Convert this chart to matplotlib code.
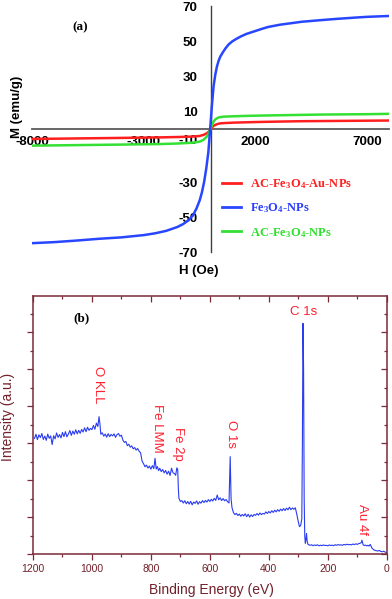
import matplotlib
matplotlib.use("Agg")
import matplotlib.pyplot as plt
from matplotlib.ticker import FixedLocator, MultipleLocator, NullFormatter

plt.rcParams['mathtext.fontset'] = 'custom'
plt.rcParams['mathtext.default'] = 'regular'

# ---------------- Panel (a): magnetization curves ----------------
h_fe3o4 = [-8000, -7000, -6000, -5000, -4000, -3000, -2500, -2000, -1500, -1250, -1000,
           -800, -640, -500, -400, -300, -200, -110, -30, 0, 46, 122, 200, 274, 350,
           426, 550, 654, 800, 958, 1150, 1338, 1600, 1794, 2250, 2557, 3086, 4078, 5000,
           5598, 6500, 7000, 8000]
m_fe3o4 = [-64.8, -64.2, -63.3, -62.3, -61.5, -60.2, -59.2, -57.8, -55.6, -54.0, -51.8,
           -49.0, -45.0, -40.5, -36.0, -30.0, -22.0, -13.0, 0.0, 5.1, 13.0, 24.3, 31.0,
           35.7, 39.0, 41.4, 44.0, 46.0, 48.3, 50.0, 51.5, 52.8, 54.3, 55.1, 57.0, 58.2,
           59.5, 61.2, 62.2, 62.8, 63.6, 64.0, 64.5]

h_au = [-8000, -6000, -4000, -2300, -1500, -780, -500, -330, -180, -100, -30, 50, 120, 200,
        300, 426, 700, 1034, 1600, 2250, 3100, 4000, 5000, 6000, 7000, 8000]
m_au = [-5.5, -5.2, -4.9, -4.6, -4.4, -4.1, -3.8, -3.2, -2.3, -1.5, 0.0, 1.0, 1.9, 2.5,
        3.0, 3.4, 3.6, 3.8, 4.0, 4.2, 4.4, 4.6, 4.7, 4.8, 4.9, 5.0]

h_ac = [-8000, -6000, -4000, -2300, -1500, -790, -500, -334, -183, -100, -30, 50, 122, 200,
        274, 400, 578, 1000, 1490, 2200, 3086, 4000, 5000, 6000, 7000, 8000]
m_ac = [-9.3, -9.0, -8.7, -8.4, -8.1, -7.6, -7.0, -6.1, -4.2, -2.6, 0.0, 2.2, 4.4, 5.6,
        6.3, 6.9, 7.2, 7.4, 7.6, 7.8, 8.0, 8.2, 8.4, 8.5, 8.6, 8.8]

a_xticks = [-8000, -3000, 2000, 7000]
a_yticks = [-70, -50, -30, -10, 10, 30, 50, 70]

labels_a = [r'AC-Fe$_{3}$O$_{4}$-Au-NPs', r'Fe$_{3}$O$_{4}$-NPs', r'AC-Fe$_{3}$O$_{4}$-NPs']

# ---------------- Panel (b): XPS survey spectrum ----------------
be = [1195, 1190, 1185, 1180, 1175, 1170, 1165, 1160, 1155, 1150, 1145, 1140, 1135, 1130,
      1125, 1120, 1115, 1110, 1105, 1100, 1095, 1090, 1085, 1080, 1075, 1070, 1065, 1060,
      1055, 1050, 1045, 1040, 1035, 1030, 1025, 1020, 1015, 1010, 1005, 1000, 995, 990,
      985, 980, 976, 973, 970, 965, 960, 955, 950, 945, 940, 935, 930, 925, 920, 915, 910,
      905, 900, 895, 890, 885, 880, 875, 870, 865, 860, 855, 850, 845, 840, 835, 830, 825,
      820, 815, 810, 805, 800, 795, 790, 786, 782, 778, 774, 770, 765, 760, 755, 750, 745,
      740, 735, 730, 725, 720, 716, 712, 709, 707, 705, 700, 695, 690, 685, 680, 675, 670,
      665, 660, 655, 650, 645, 640, 635, 630, 625, 620, 615, 610, 605, 600, 595, 590, 585,
      580, 575, 570, 565, 560, 555, 550, 545, 540, 535, 531, 528, 525, 520, 515, 510, 505,
      500, 495, 490, 485, 480, 475, 470, 465, 460, 455, 450, 445, 440, 435, 430, 425, 420,
      415, 410, 405, 400, 395, 390, 385, 380, 375, 370, 365, 360, 355, 350, 345, 340, 335,
      330, 325, 320, 315, 310, 305, 300, 296, 292, 288, 286, 284, 282, 280, 278, 276, 274,
      272, 270, 267, 260, 255, 250, 245, 240, 235, 230, 225, 220, 215, 210, 205, 200, 195,
      190, 185, 180, 175, 170, 165, 160, 155, 150, 145, 140, 135, 130, 125, 120, 115, 110,
      105, 100, 95, 90, 86, 84, 82, 80, 76, 72, 68, 64, 60, 56, 54, 50, 45, 40, 35, 30, 25,
      20, 15, 10, 5, 0]
intensity = [62.5, 64.8, 61.9, 64.5, 63.0, 65.2, 62.0, 63.8, 61.5, 64.9, 62.6, 63.9, 59.2,
             64.0, 62.3, 65.5, 63.1, 64.6, 62.8, 65.8, 63.5, 66.2, 63.4, 64.9, 66.8, 64.2,
             66.5, 64.8, 67.2, 65.0, 66.9, 65.3, 67.4, 66.0, 68.3, 66.2, 68.6, 66.9, 68.0,
             67.3, 69.6, 67.5, 70.8, 69.0, 74.3, 70.5, 64.8, 65.6, 63.8, 64.9, 63.2, 65.1,
             63.5, 64.7, 63.9, 65.0, 63.1, 64.6, 65.2, 63.7, 64.3, 61.6, 60.4, 60.9, 58.6,
             59.4, 57.8, 58.5, 56.9, 57.6, 56.2, 57.1, 55.6, 54.8, 50.3, 48.9, 47.2, 48.1,
             46.5, 47.6, 45.9, 47.8, 46.2, 51.8, 46.0, 47.3, 45.1, 46.4, 44.6, 45.7, 43.9,
             45.2, 43.2, 44.8, 42.5, 46.4, 44.0, 43.5, 42.6, 46.6, 45.8, 36.0, 30.2, 28.4,
             28.9, 27.6, 28.8, 27.2, 28.4, 27.0, 28.5, 26.6, 28.1, 27.4, 28.7, 26.9, 28.3,
             27.5, 28.9, 27.8, 29.0, 28.1, 29.4, 28.4, 29.6, 28.7, 30.1, 29.0, 31.9, 29.3,
             30.4, 28.9, 30.0, 28.8, 29.5, 28.3, 27.6, 52.7, 30.0, 25.2, 22.4, 21.3, 22.0,
             20.8, 21.6, 20.4, 21.4, 20.6, 21.8, 20.2, 21.5, 20.0, 21.2, 20.3, 21.4, 20.9,
             21.9, 21.0, 22.2, 21.3, 22.0, 21.6, 22.8, 21.9, 23.0, 22.2, 23.4, 22.5, 23.7,
             22.8, 24.0, 23.1, 24.3, 23.4, 24.6, 23.5, 24.8, 23.9, 25.3, 24.0, 24.9, 24.2,
             25.0, 21.5, 17.5, 14.8, 15.4, 19.0, 60.0, 124.8, 100.0, 30.0, 9.5, 5.8, 8.0,
             11.0, 7.0, 5.2, 4.7, 5.0, 4.5, 4.9, 4.6, 5.0, 4.4, 4.8, 4.5, 4.9, 4.6, 4.7,
             4.4, 4.9, 4.6, 4.8, 4.5, 5.0, 4.7, 5.1, 4.8, 5.0, 4.7, 5.2, 4.9, 5.3, 5.0, 5.2,
             4.9, 5.4, 5.1, 5.5, 5.2, 5.6, 5.8, 6.2, 7.5, 6.3, 5.0, 4.6, 4.8, 4.4, 4.7, 4.3,
             5.2, 4.6, 3.2, 2.4, 2.0, 1.8, 1.6, 1.9, 1.4, 1.2, 1.5, 1.0, 0.8]

peak_names = ['O KLL', 'Fe LMM', 'Fe 2p', 'O 1s', 'C 1s', 'Au 4f']
peak_x = [979, 779, 708, 528, 281, 84]
peak_y = [91.4, 68.2, 59.5, 64.9, 130.9, 18.9]
peak_rot = [270, 270, 270, 270, 0, 270]

W, H = 392, 599
fig = plt.figure(figsize=(W / 100, H / 100), dpi=100)

def px(x, y):
    return x / W, 1 - y / H

# ---- axes (a)
left_a, right_a, top_a, bot_a = 32.3, 389.3, 6.3, 252.3
ax = fig.add_axes([left_a / W, 1 - bot_a / H, (right_a - left_a) / W, (bot_a - top_a) / H])
ax.patch.set_alpha(0)
ax.set_xlim(-8000, 8000)
ax.set_ylim(-70, 70)
for s in ['top', 'right']:
    ax.spines[s].set_visible(False)
ax.spines['left'].set_position(('data', 0))
ax.spines['bottom'].set_position(('data', 0))
ax.spines['left'].set_color('#404040')
ax.spines['left'].set_linewidth(1.0)
ax.spines['bottom'].set_color('#5a5a5a')
ax.spines['bottom'].set_linewidth(1.3)

tick_font = dict(family='Liberation Sans', weight='bold', size=9.5)
ax.xaxis.set_major_locator(FixedLocator(a_xticks))
ax.set_xticklabels([str(v) for v in a_xticks], **tick_font)
ax.yaxis.set_major_locator(FixedLocator(a_yticks))
ax.set_yticklabels([('' if v == -10 else str(v)) for v in a_yticks], **tick_font)
ax.tick_params(axis='x', length=0, pad=4.5)
ax.tick_params(axis='y', length=0, pad=9.5)
ax.annotate('-10', xy=(0, -10), xycoords='data', xytext=(-9.5, 4), textcoords='offset points',
            ha='right', va='center', **tick_font)

l_au, = ax.plot(h_au, m_au, color='#ff1f1f', lw=1.8, zorder=3)
l_ac, = ax.plot(h_ac, m_ac, color='#33e033', lw=1.8, zorder=4)
l_fe, = ax.plot(h_fe3o4, m_fe3o4, color='#2846ff', lw=1.8, zorder=5)

leg = ax.legend([l_au, l_fe, l_ac], labels_a, loc='upper left',
                bbox_to_anchor=px(222, 177), bbox_transform=fig.transFigure,
                frameon=False, handlelength=1.5, handletextpad=0.7, labelspacing=0.85,
                borderpad=0, borderaxespad=0,
                prop=dict(family='Liberation Serif', weight='bold', size=9))
for t, c in zip(leg.get_texts(), ['#ff2020', '#2a3cff', '#30e030']):
    t.set_color(c)
for l in leg.get_lines():
    l.set_linewidth(2.0)

fig.text(*px(17, 107), 'M (emu/g)', rotation=90, ha='center', va='center',
         family='Liberation Sans', weight='bold', size=9.5)
fig.text(*px(199, 271), 'H (Oe)', ha='center', va='center',
         family='Liberation Sans', weight='bold', size=9.5)
fig.text(*px(80, 27), '(a)', ha='center', va='center',
         family='Liberation Serif', weight='bold', size=9.5)

# ---- axes (b)
maroon = '#7b2a38'
txtc = '#72202a'
left_b, right_b, top_b, bot_b = 33, 386.7, 296, 554
bx = fig.add_axes([left_b / W, 1 - bot_b / H, (right_b - left_b) / W, (bot_b - top_b) / H])
bx.plot(be, intensity, color='#2a3cf0', lw=0.8)
bx.set_xlim(1200, 0)
bx.set_ylim(0, 139.6)
for s in bx.spines.values():
    s.set_color(maroon)
    s.set_linewidth(1.1)
bx.xaxis.set_major_locator(MultipleLocator(200))
bx.xaxis.set_minor_locator(MultipleLocator(100))
bx.yaxis.set_major_locator(MultipleLocator(20))
bx.yaxis.set_minor_locator(MultipleLocator(10))
bx.yaxis.set_major_formatter(NullFormatter())
bx.tick_params(which='both', colors=maroon, labelcolor=txtc, labelsize=7.5, width=0.9)
bx.tick_params(axis='x', which='both', top=True, bottom=True, direction='out', pad=3.5)
bx.tick_params(axis='y', which='both', left=True, right=True, direction='out')
bx.tick_params(which='major', length=4)
bx.tick_params(which='minor', length=2.5)
# mirrored (top/right) ticks point inward
for t in bx.xaxis.get_major_ticks() + bx.xaxis.get_minor_ticks():
    t.tick2line.set_marker(3)
for t in bx.yaxis.get_major_ticks() + bx.yaxis.get_minor_ticks():
    t.tick2line.set_marker(0)
for lab in bx.get_xticklabels():
    lab.set_family('Liberation Sans')

bx.set_xlabel('Binding Energy (eV)', color=txtc, family='Liberation Sans', size=10)
bx.xaxis.set_label_coords((211 - left_b) / (right_b - left_b), (bot_b - 590) / (bot_b - top_b))
bx.xaxis.label.set_va('center')
bx.set_ylabel('Intensity (a.u.)', color=txtc, family='Liberation Sans', size=10)
bx.yaxis.set_label_coords((8 - left_b) / (right_b - left_b), (bot_b - 417) / (bot_b - top_b))
bx.yaxis.label.set_va('center')

for name, xx, yy, rot in zip(peak_names, peak_x, peak_y, peak_rot):
    bx.text(xx, yy, name, rotation=rot, ha='center', va='center', color='#ff2030',
            family='Liberation Sans', size=9.5)

fig.text(*px(81, 318), '(b)', ha='center', va='center',
         family='Liberation Serif', weight='bold', size=9.5)

fig.savefig('out.png', dpi=100)
